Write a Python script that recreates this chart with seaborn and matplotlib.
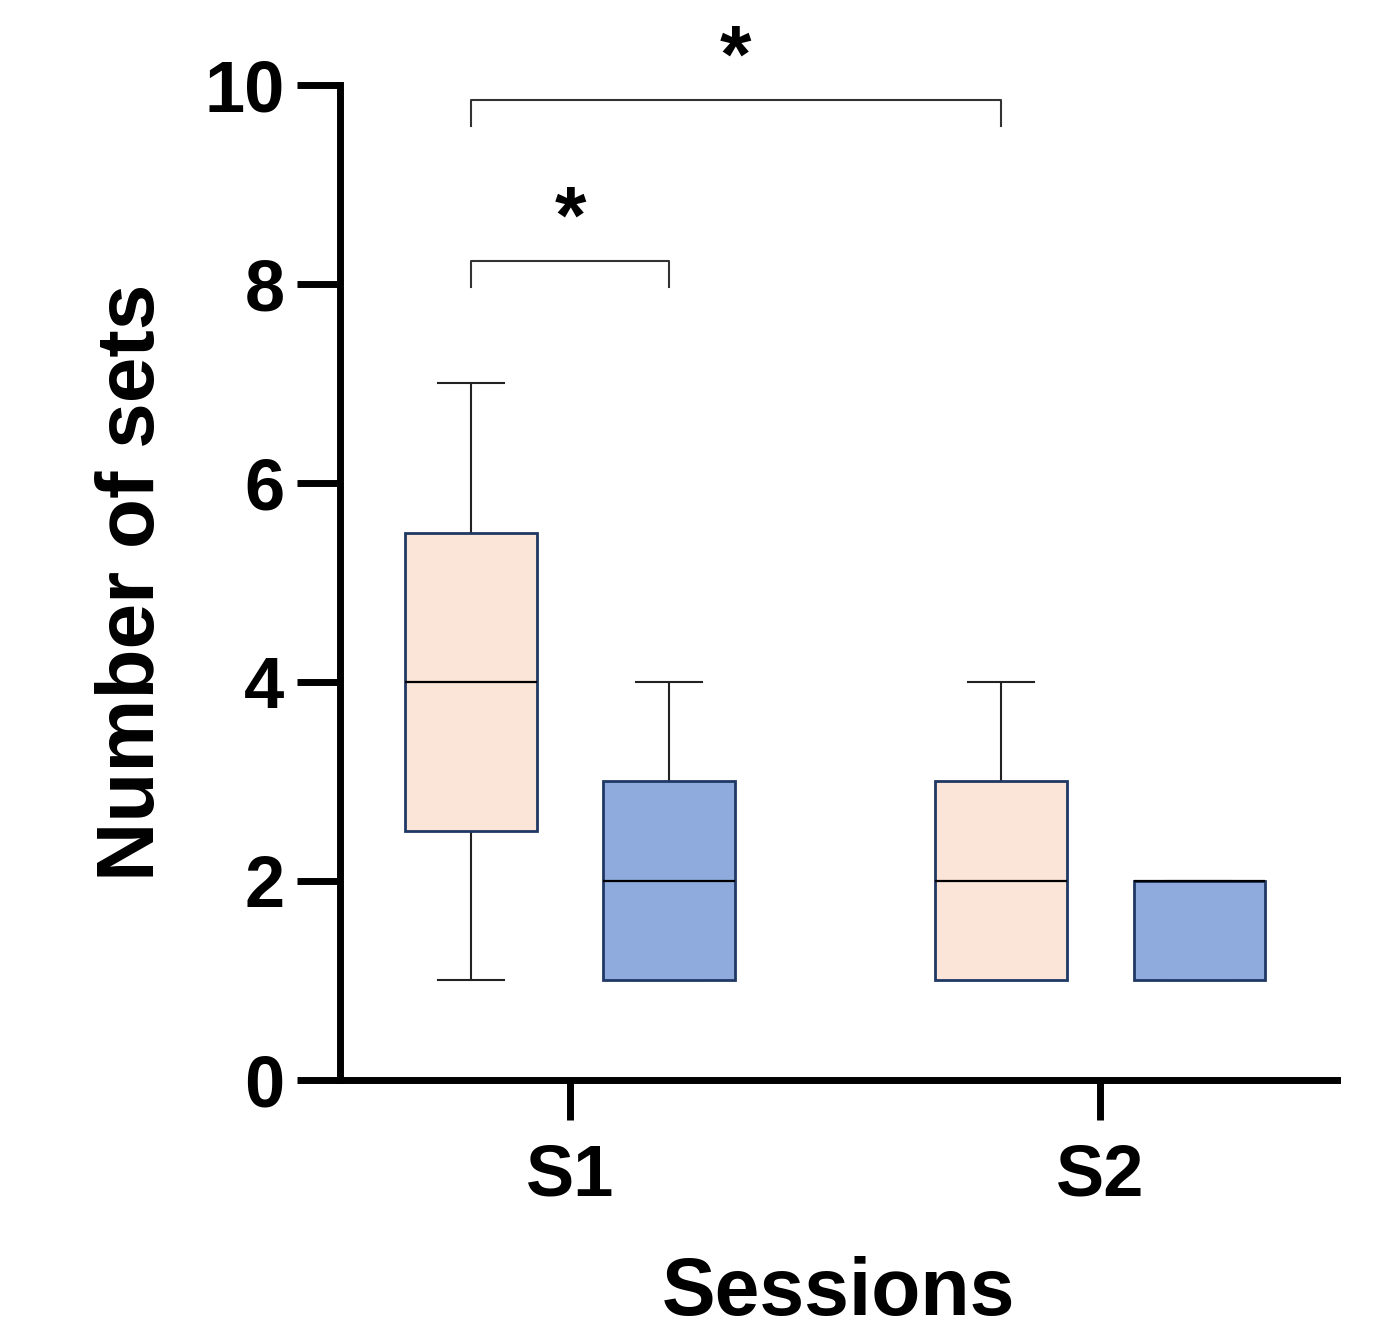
import seaborn as sns
import matplotlib.pyplot as plt
import pandas as pd

# raw values per session / group (chosen so the box stats match the figure)
sessions = ['S1', 'S2']
groups = ['Group A', 'Group B']
s1_a = [1, 2, 3, 4, 5, 6, 7]
s1_b = [1, 1, 2, 3, 4]
s2_a = [1, 1, 2, 3, 4]
s2_b = [1, 1, 2, 2, 2]
colors = ['#FAE5D8', '#8FAADC']

# significance brackets: (session, group) pairs, bracket height, star
sig_pairs = [((0, 0), (0, 1)), ((0, 0), (1, 0))]
sig_heights = [8.23, 9.85]
sig_labels = ['*', '*']

rows = []
for sess, grp, vals in [('S1', 'Group A', s1_a), ('S1', 'Group B', s1_b),
                        ('S2', 'Group A', s2_a), ('S2', 'Group B', s2_b)]:
    for v in vals:
        rows.append({'Session': sess, 'Group': grp, 'Sets': v})
df = pd.DataFrame(rows)

plt.rcParams['font.family'] = ['Liberation Sans', 'DejaVu Sans']
plt.rcParams['font.weight'] = 'bold'

fig = plt.figure(figsize=(13.98, 13.32), dpi=100)
ax = fig.add_axes([0.2432, 0.1892, 0.7132, 0.7470])

width = 0.75
gap = 0.336
sns.boxplot(data=df, x='Session', y='Sets', hue='Group', order=sessions,
            hue_order=groups, palette=colors, saturation=1, width=width,
            gap=gap, whis=(0, 100), legend=False, ax=ax,
            boxprops=dict(edgecolor='#1F3864', linewidth=2.0, zorder=3),
            whiskerprops=dict(color='#222222', linewidth=1.5, zorder=2),
            capprops=dict(color='#222222', linewidth=1.5, zorder=2),
            medianprops=dict(color='black', linewidth=1.6, zorder=4))

ax.set_xlim(-0.434, 1.447)
ax.set_ylim(0, 10)
ax.set_yticks([0, 2, 4, 6, 8, 10])

for s in ['top', 'right']:
    ax.spines[s].set_visible(False)
for s in ['left', 'bottom']:
    ax.spines[s].set_linewidth(5)
    ax.spines[s].set_color('black')

ax.tick_params(axis='y', length=31, width=5, pad=9, labelsize=52)
ax.tick_params(axis='x', length=29, width=5, pad=16, labelsize=52)
for lab in ax.get_xticklabels() + ax.get_yticklabels():
    lab.set_fontweight('bold')

ax.set_xlabel('Sessions', fontsize=58, fontweight='bold', labelpad=33)
ax.set_ylabel('Number of sets', fontsize=59, fontweight='bold', labelpad=24)

# brackets
off = width / 4
def xpos(p):
    return p[0] + (-off if p[1] == 0 else off)

for (a, b), h, lab in zip(sig_pairs, sig_heights, sig_labels):
    x1, x2 = xpos(a), xpos(b)
    ax.plot([x1, x1, x2, x2], [h - 0.26, h, h, h - 0.26], color='#333333',
            lw=1.5, clip_on=False)
    ax.text((x1 + x2) / 2, h + 0.4, lab, ha='center', va='center',
            fontsize=58, fontweight='bold', clip_on=False)

plt.savefig('out.png', dpi=100)
